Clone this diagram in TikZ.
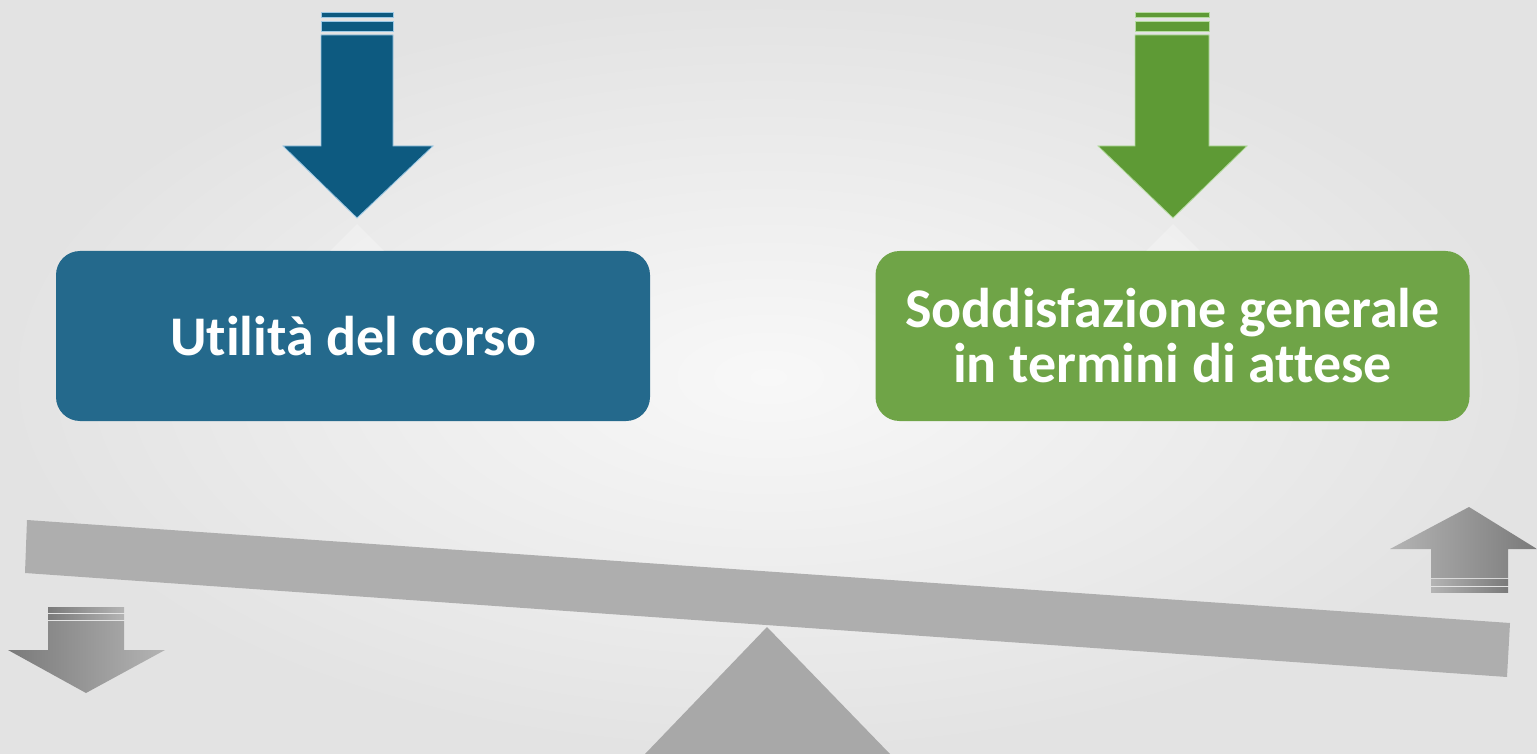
\documentclass[tikz,border=0pt]{standalone}
\usepackage{fontspec}
\setmainfont{Carlito}[Ligatures=NoCommon]
\definecolor{bgin}{HTML}{F8F8F8}
\definecolor{bgout}{HTML}{E3E3E3}
\definecolor{bluearr}{HTML}{0D5A80}
\definecolor{bluebox}{HTML}{24698C}
\definecolor{bluerim}{HTML}{9CC8E4}
\definecolor{greenarr}{HTML}{5E9A35}
\definecolor{greenbox}{HTML}{6FA447}
\definecolor{greenrim}{HTML}{B5DCA0}
\definecolor{beam}{HTML}{AEAEAE}
\definecolor{fulcrum}{HTML}{A8A8A8}
\definecolor{gdark}{HTML}{7A7A7A}
\definecolor{glight}{HTML}{B4B4B4}
\tikzset{
  card/.style={rounded corners=24pt, minimum width=594pt, minimum height=170pt,
    text=white, align=center, inner sep=0pt,
    font=\fontsize{56}{55}\selectfont\bfseries},
}
\begin{document}
\begin{tikzpicture}[x=1pt,y=-1pt]
\useasboundingbox (0,0) rectangle (1537,754);
% background
\shade[inner color=bgin, outer color=bgout] (0,0) rectangle (1537,754);

% boxes
\node[card, fill=bluebox] (utl) at (353,336) {Utilità del corso};
\node[card, fill=greenbox] (sod) at (1172.5,336) {Soddisfazione generale\\in termini di attese};

% reflections of arrow tips on boxes
\fill[white, opacity=0.25] (357,224) -- (330,251) -- (384,251) -- cycle;
\fill[white, opacity=0.25] (1173,224) -- (1146,251) -- (1200,251) -- cycle;

% blue arrow
\begin{scope}[draw=bluerim, line width=0.8pt, fill=bluearr]
\filldraw (321,12.5) rectangle (393,17);
\filldraw (321,21) rectangle (393,31);
\filldraw (321,35) -- (393,35) -- (393,146) -- (433,146) -- (357,218) -- (283,146) -- (321,146) -- cycle;
\end{scope}
% green arrow
\begin{scope}[draw=greenrim, line width=0.8pt, fill=greenarr]
\filldraw (1135,12.5) rectangle (1209,17);
\filldraw (1135,21) rectangle (1209,31);
\filldraw (1135,35) -- (1209,35) -- (1209,146) -- (1247,146) -- (1173,218) -- (1098,146) -- (1135,146) -- cycle;
\end{scope}

% beam and fulcrum
\fill[beam] (27,520) -- (1510,623) -- (1507,677) -- (25,573) -- cycle;
\fill[fulcrum] (767,627) -- (890,754) -- (645,754) -- cycle;

% small gray down arrow (left)
\shade[left color=gdark, right color=glight] (48,607) rectangle (124,612.5);
\shade[left color=gdark, right color=glight] (48,614) rectangle (124,619.5);
\shade[left color=gdark, right color=glight] (48,621) -- (124,621) -- (124,650) -- (165,650) -- (86,693) -- (8,650) -- (48,650) -- cycle;
% small gray up arrow (right)
\shade[left color=glight, right color=gdark] (1469,507) -- (1537,549) -- (1508,549) -- (1508,578) -- (1431,578) -- (1431,549) -- (1390,549) -- cycle;
\shade[left color=glight, right color=gdark] (1431,579.5) rectangle (1508,585);
\shade[left color=glight, right color=gdark] (1431,587) rectangle (1508,592);
\end{tikzpicture}
\end{document}
